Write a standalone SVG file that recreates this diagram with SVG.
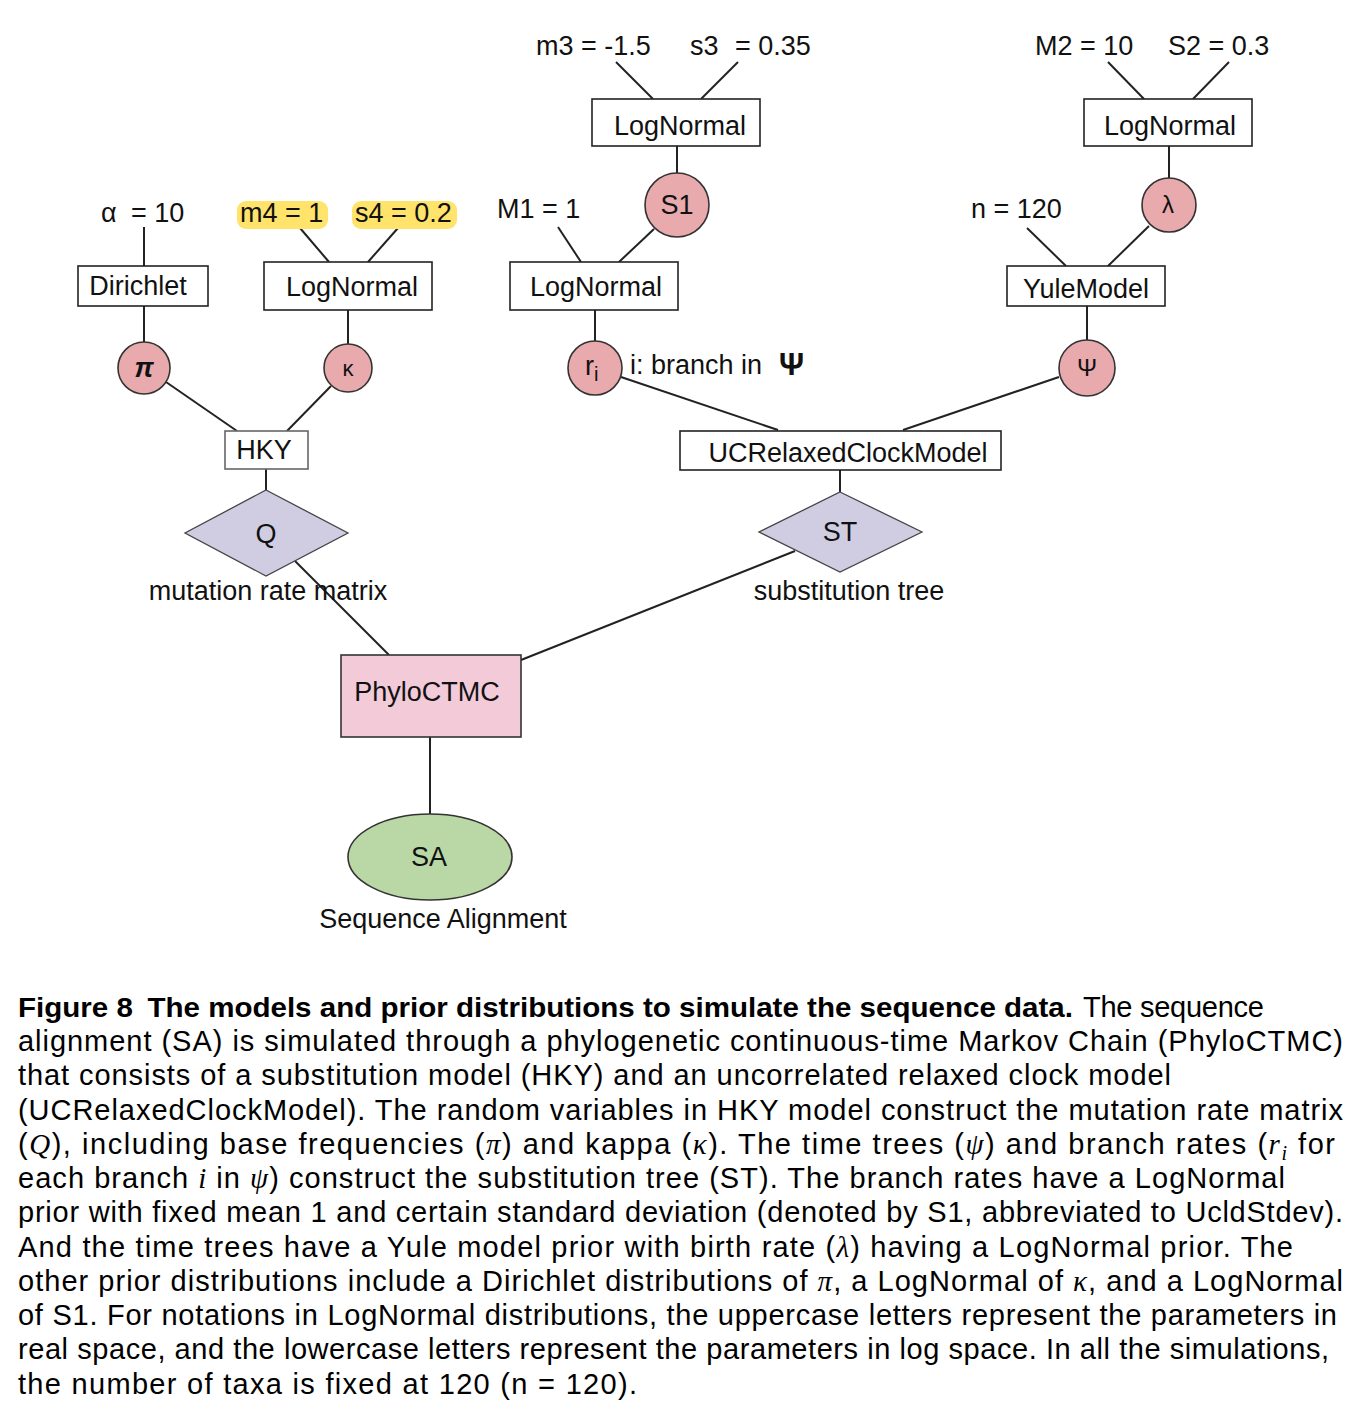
<svg xmlns="http://www.w3.org/2000/svg" width="1360" height="1420" viewBox="0 0 1360 1420">
<style>
.t{font-family:"Liberation Sans",Arial,sans-serif;font-size:27px;fill:#111;}
.m{text-anchor:middle;}
.box{fill:#fff;stroke:#222;stroke-width:1.6;}
.circ{fill:#e8aaac;stroke:#333;stroke-width:1.6;}
.dia{fill:#d0cde3;stroke:#444;stroke-width:1.3;}
.hl{fill:#ffe36b;}
.ln{stroke:#222;stroke-width:2;fill:none;}
.cap{font-family:"Liberation Sans",Arial,sans-serif;font-size:29px;fill:#000;}
.capb{font-family:"Liberation Sans",Arial,sans-serif;font-size:28px;font-weight:bold;fill:#000;}
.mi{font-family:"Liberation Serif","Times New Roman",serif;font-style:italic;}
</style>
<rect width="1360" height="1420" fill="#fff"/>

<g id="connectors">
  <line class="ln" x1="144" y1="227" x2="144" y2="266"/>
  <line class="ln" x1="144" y1="306" x2="144" y2="342"/>
  <line class="ln" x1="166" y1="382" x2="237" y2="431"/>
  <line class="ln" x1="300" y1="228" x2="329" y2="262"/>
  <line class="ln" x1="398" y1="228" x2="368" y2="262"/>
  <line class="ln" x1="348" y1="310" x2="348" y2="344"/>
  <line class="ln" x1="331" y1="386" x2="287" y2="431"/>
  <line class="ln" x1="266" y1="469" x2="266" y2="490"/>
  <line class="ln" x1="295" y1="561" x2="389" y2="655"/>
  <line class="ln" x1="616" y1="62" x2="653" y2="99"/>
  <line class="ln" x1="738" y1="62" x2="701" y2="99"/>
  <line class="ln" x1="677" y1="146" x2="677" y2="173"/>
  <line class="ln" x1="558" y1="227" x2="581" y2="262"/>
  <line class="ln" x1="654" y1="229" x2="619" y2="262"/>
  <line class="ln" x1="595" y1="310" x2="595" y2="341"/>
  <line class="ln" x1="621" y1="377" x2="778" y2="430"/>
  <line class="ln" x1="1108" y1="62" x2="1144" y2="99"/>
  <line class="ln" x1="1229" y1="62" x2="1193" y2="99"/>
  <line class="ln" x1="1169" y1="146" x2="1169" y2="178"/>
  <line class="ln" x1="1027" y1="228" x2="1066" y2="266"/>
  <line class="ln" x1="1149" y1="226" x2="1108" y2="266"/>
  <line class="ln" x1="1087" y1="306" x2="1087" y2="340"/>
  <line class="ln" x1="1059" y1="377" x2="903" y2="430"/>
  <line class="ln" x1="840" y1="470" x2="840" y2="492"/>
  <line class="ln" x1="795" y1="551" x2="521" y2="660"/>
  <line class="ln" x1="430" y1="737" x2="430" y2="814"/>
</g>

<g id="labels">
  <text class="t" x="101" y="222">α</text>
  <text class="t" x="131" y="222">= 10</text>
  <rect class="hl" x="237" y="201" width="91" height="28" rx="9"/>
  <text class="t" x="240" y="222">m4 = 1</text>
  <rect class="hl" x="352" y="201" width="105" height="28" rx="9"/>
  <text class="t" x="355" y="222">s4 = 0.2</text>
  <text class="t" x="536" y="55">m3 = -1.5</text>
  <text class="t" x="690" y="55">s3</text>
  <text class="t" x="735" y="55">= 0.35</text>
  <text class="t" x="497" y="218">M1 = 1</text>
  <text class="t" x="1035" y="55">M2 = 10</text>
  <text class="t" x="1168" y="55">S2 = 0.3</text>
  <text class="t" x="971" y="218">n = 120</text>
  <text class="t" x="630" y="374">i: branch in</text>
  <text class="t" x="779" y="375" style="font-size:31px;font-weight:bold">Ψ</text>
  <text class="t m" x="268" y="600">mutation rate matrix</text>
  <text class="t m" x="849" y="600">substitution tree</text>
  <text class="t m" x="443" y="928">Sequence Alignment</text>
</g>

<g id="dirichlet"><rect class="box" x="78" y="266" width="130" height="40"/><text class="t m" x="138" y="295">Dirichlet</text></g>
<g id="lognormal-kappa"><rect class="box" x="264" y="262" width="168" height="48"/><text class="t m" x="352" y="296">LogNormal</text></g>
<g id="pi"><circle class="circ" cx="144" cy="368" r="26"/><text class="t m" x="144" y="377" style="font-style:italic;font-weight:bold">π</text></g>
<g id="kappa"><circle class="circ" cx="348" cy="368" r="24"/><text class="t m" x="348" y="376" style="font-size:22px">κ</text></g>
<g id="hky"><rect x="225" y="431" width="83" height="38" fill="#fff" stroke="#666" stroke-width="1.6"/><text class="t m" x="264" y="459">HKY</text></g>
<g id="Q"><polygon class="dia" points="266,490 348,533 266,576 185,533"/><text class="t m" x="266" y="543">Q</text></g>

<g id="lognormal-s1"><rect class="box" x="592" y="99" width="168" height="47"/><text class="t m" x="680" y="135">LogNormal</text></g>
<g id="S1"><circle class="circ" cx="677" cy="205" r="32"/><text class="t m" x="677" y="214">S1</text></g>
<g id="lognormal-r"><rect class="box" x="510" y="262" width="168" height="48"/><text class="t m" x="596" y="296">LogNormal</text></g>
<g id="ri"><circle class="circ" cx="595" cy="368" r="27"/><text class="t" x="585" y="375">r<tspan style="font-size:20px" dy="6">i</tspan></text></g>

<g id="lognormal-lambda"><rect class="box" x="1084" y="99" width="168" height="47"/><text class="t m" x="1170" y="135">LogNormal</text></g>
<g id="lambda"><circle class="circ" cx="1169" cy="205" r="27"/><text class="t m" x="1168" y="213" style="font-size:24px">λ</text></g>
<g id="yule"><rect class="box" x="1007" y="266" width="158" height="40"/><text class="t m" x="1086" y="298">YuleModel</text></g>
<g id="psi"><circle class="circ" cx="1087" cy="368" r="28"/><text class="t m" x="1087" y="376" style="font-size:24px">Ψ</text></g>

<g id="ucrelaxed"><rect class="box" x="680" y="431" width="321" height="39"/><text class="t m" x="848" y="462">UCRelaxedClockModel</text></g>
<g id="ST"><polygon class="dia" points="840,492 922,532 840,572 759,532"/><text class="t m" x="840" y="541">ST</text></g>

<g id="phyloctmc"><rect x="341" y="655" width="180" height="82" fill="#f2cad8" stroke="#333" stroke-width="1.6"/><text class="t m" x="427" y="701">PhyloCTMC</text></g>
<g id="SA"><ellipse cx="430" cy="857" rx="82" ry="43" fill="#bad7a6" stroke="#333" stroke-width="1.6"/><text class="t m" x="429" y="866">SA</text></g>

<g id="caption">
  <text class="capb" x="18" y="1017" textLength="1055" lengthAdjust="spacingAndGlyphs">Figure 8 <tspan dx="6">The models and prior distributions to simulate the sequence data.</tspan></text>
  <text class="cap" x="1083" y="1017" textLength="181" lengthAdjust="spacing">The sequence</text>
  <text class="cap" x="18" y="1051" textLength="1325" lengthAdjust="spacing">alignment (SA) is simulated through a phylogenetic continuous-time Markov Chain (PhyloCTMC)</text>
  <text class="cap" x="18" y="1085" textLength="1153" lengthAdjust="spacing">that consists of a substitution model (HKY) and an uncorrelated relaxed clock model</text>
  <text class="cap" x="18" y="1120" textLength="1325" lengthAdjust="spacing">(UCRelaxedClockModel). The random variables in HKY model construct the mutation rate matrix</text>
  <text class="cap" x="18" y="1154" textLength="1317" lengthAdjust="spacing">(<tspan class="mi">Q</tspan>), including base frequencies (<tspan class="mi">π</tspan>) and kappa (<tspan class="mi">κ</tspan>). The time trees (<tspan class="mi">ψ</tspan>) and branch rates (<tspan class="mi">r</tspan><tspan class="mi" style="font-size:20px" dy="6">i</tspan><tspan dy="-6"> for</tspan></text>
  <text class="cap" x="18" y="1188" textLength="1267" lengthAdjust="spacing">each branch <tspan class="mi">i</tspan> in <tspan class="mi">ψ</tspan>) construct the substitution tree (ST). The branch rates have a LogNormal</text>
  <text class="cap" x="18" y="1222" textLength="1325" lengthAdjust="spacing">prior with fixed mean 1 and certain standard deviation (denoted by S1, abbreviated to UcldStdev).</text>
  <text class="cap" x="18" y="1257" textLength="1275" lengthAdjust="spacing">And the time trees have a Yule model prior with birth rate (<tspan class="mi">λ</tspan>) having a LogNormal prior. The</text>
  <text class="cap" x="18" y="1291" textLength="1325" lengthAdjust="spacing">other prior distributions include a Dirichlet distributions of <tspan class="mi">π</tspan>, a LogNormal of <tspan class="mi">κ</tspan>, and a LogNormal</text>
  <text class="cap" x="18" y="1325" textLength="1319" lengthAdjust="spacing">of S1. For notations in LogNormal distributions, the uppercase letters represent the parameters in</text>
  <text class="cap" x="18" y="1359" textLength="1311" lengthAdjust="spacing">real space, and the lowercase letters represent the parameters in log space. In all the simulations,</text>
  <text class="cap" x="18" y="1394" textLength="619" lengthAdjust="spacing">the number of taxa is fixed at 120 (n = 120).</text>
</g>
</svg>
